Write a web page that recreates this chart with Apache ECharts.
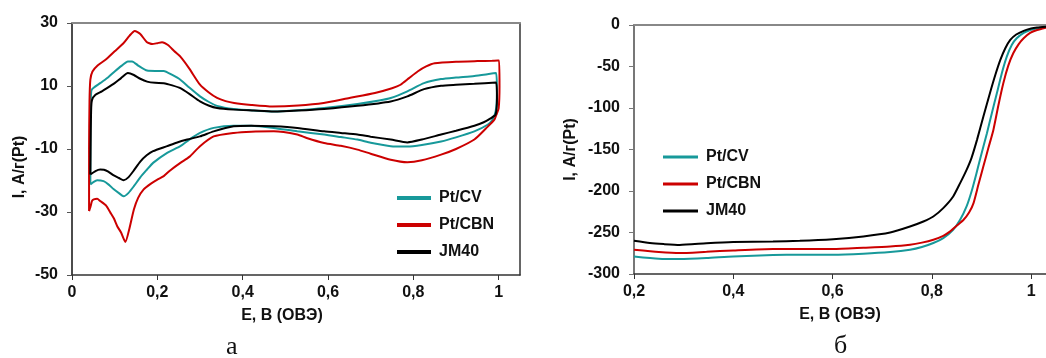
<!DOCTYPE html>
<html>
<head>
<meta charset="utf-8">
<script src="https://cdn.jsdelivr.net/npm/echarts@6/dist/echarts.min.js"></script>
<style>html,body{margin:0;padding:0;background:#fff}#c{width:1046px;height:358px}</style>
</head>
<body>
<div id="c"></div>
<script>
// ---- Panel a: cyclic voltammograms, [E, I] in path order ----
const seriesNames = ['Pt/CV', 'Pt/CBN', 'JM40'];
const cvPtCV = [[0.043,-21.3],[0.043,-5],[0.044,5],[0.046,8.8],[0.066,10.9],[0.085,12.8],[0.10,14.6],[0.115,16.3],[0.131,17.8],[0.141,17.8],[0.155,16.5],[0.176,14.9],[0.195,14.8],[0.215,14.8],[0.235,13.5],[0.254,12.0],[0.275,9.5],[0.30,6.7],[0.32,5.0],[0.34,3.7],[0.379,2.7],[0.426,2.2],[0.473,1.9],[0.53,2.3],[0.591,3.0],[0.669,4.3],[0.72,5.4],[0.747,6.2],[0.786,8.3],[0.825,10.9],[0.865,12.2],[0.90,12.7],[0.943,13.2],[0.994,14.1],[0.996,8],[0.993,2],[0.985,-0.8],[0.974,-2.3],[0.943,-4.4],[0.90,-6.3],[0.865,-7.6],[0.82,-8.7],[0.786,-9.2],[0.747,-9.1],[0.70,-8.0],[0.669,-7.0],[0.63,-6.2],[0.591,-5.4],[0.528,-4.4],[0.473,-3.3],[0.42,-2.6],[0.379,-2.6],[0.332,-3.3],[0.30,-4.9],[0.275,-7.0],[0.254,-9.1],[0.223,-11.2],[0.19,-14.4],[0.176,-16.5],[0.16,-19.0],[0.145,-21.8],[0.132,-24.0],[0.121,-25.0],[0.11,-24.0],[0.098,-22.8],[0.086,-21.3],[0.074,-20.2],[0.059,-19.9],[0.05,-20.5],[0.043,-21.3]];
const cvPtCBN = [[0.040,-29.7],[0.040,-10],[0.041,5],[0.043,12],[0.048,14.6],[0.06,16.5],[0.08,18.5],[0.10,21.0],[0.12,23.5],[0.135,26.0],[0.147,27.5],[0.16,26.5],[0.175,24.0],[0.188,23.3],[0.20,23.6],[0.211,23.9],[0.225,23.0],[0.24,21.0],[0.254,19.3],[0.275,15.5],[0.30,10.4],[0.32,8.0],[0.34,6.2],[0.36,5.2],[0.38,4.6],[0.42,4.0],[0.47,3.5],[0.53,3.8],[0.59,4.6],[0.65,6.2],[0.71,7.8],[0.75,9.3],[0.77,10.4],[0.79,12.5],[0.81,14.6],[0.83,16.2],[0.85,17.2],[0.90,17.7],[0.95,17.9],[0.985,18.0],[1.001,18.1],[1.002,10],[1.0,3],[0.995,1],[0.99,-0.7],[0.97,-3.5],[0.943,-7.0],[0.90,-10],[0.865,-11.8],[0.82,-13.6],[0.786,-14.2],[0.747,-13.4],[0.70,-11.5],[0.669,-10.2],[0.63,-9.0],[0.591,-8.1],[0.55,-6.5],[0.528,-5.4],[0.473,-4.4],[0.42,-4.5],[0.379,-4.9],[0.332,-6.0],[0.30,-9.1],[0.275,-12.5],[0.254,-14.4],[0.23,-16.8],[0.215,-18.6],[0.20,-19.7],[0.185,-21.0],[0.168,-22.8],[0.155,-25.5],[0.145,-29.2],[0.135,-35.0],[0.125,-39.5],[0.115,-36.5],[0.106,-34.5],[0.098,-32.0],[0.09,-30.2],[0.08,-28.0],[0.066,-26.5],[0.059,-25.8],[0.051,-26.0],[0.047,-26.5],[0.043,-28.5],[0.040,-29.7]];
const cvJM40 = [[0.043,-18.1],[0.044,-5],[0.045,3],[0.047,5.6],[0.055,7.2],[0.07,8.3],[0.082,9.3],[0.10,10.9],[0.115,12.5],[0.131,14.1],[0.145,13.5],[0.16,12.3],[0.176,11.4],[0.195,11.0],[0.215,10.9],[0.235,10.2],[0.254,9.3],[0.275,7.5],[0.30,5.1],[0.32,3.8],[0.34,3.0],[0.379,2.5],[0.426,2.2],[0.473,1.9],[0.53,2.2],[0.591,2.7],[0.669,3.7],[0.747,5.1],[0.786,6.7],[0.825,9.0],[0.865,10.1],[0.90,10.4],[0.943,10.7],[0.994,11.1],[0.996,6],[0.993,1],[0.982,-0.2],[0.965,-1.5],[0.943,-2.6],[0.90,-4.2],[0.865,-5.4],[0.82,-7.0],[0.786,-7.9],[0.747,-7.0],[0.70,-6.1],[0.669,-5.4],[0.63,-4.9],[0.591,-4.4],[0.528,-3.3],[0.473,-2.8],[0.42,-2.6],[0.379,-2.8],[0.332,-4.4],[0.30,-6.0],[0.27,-7.0],[0.245,-8.0],[0.223,-9.1],[0.19,-10.7],[0.175,-12.0],[0.16,-14.0],[0.145,-16.8],[0.132,-19.0],[0.121,-19.9],[0.11,-19.2],[0.098,-18.4],[0.085,-17.2],[0.075,-16.6],[0.066,-16.5],[0.055,-17.0],[0.043,-18.1]];

// ---- Panel б: linear sweep, [E, I] ----
const lsvPtCV = [[0.2,-278.8],[0.25,-281.6],[0.292,-282],[0.346,-280.8],[0.4,-278.8],[0.48,-277.2],[0.534,-276.7],[0.601,-276.8],[0.662,-275.6],[0.716,-273.6],[0.756,-270.8],[0.78,-267.5],[0.803,-262.7],[0.823,-256.7],[0.843,-246.7],[0.857,-234.7],[0.87,-218.6],[0.88,-200.6],[0.89,-178.5],[0.897,-162],[0.911,-130.3],[0.921,-106],[0.931,-82.2],[0.941,-58],[0.951,-38.1],[0.961,-24],[0.971,-16],[0.985,-9.5],[0.998,-6],[1.012,-3.8],[1.03,-2]];
const lsvPtCBN = [[0.2,-270.8],[0.25,-273.5],[0.292,-274.8],[0.346,-273.2],[0.4,-271.6],[0.48,-269.9],[0.534,-270],[0.601,-270],[0.662,-268.4],[0.716,-266.8],[0.756,-264.7],[0.78,-262.2],[0.803,-258.7],[0.823,-254],[0.837,-248.7],[0.85,-242],[0.864,-234.7],[0.875,-226],[0.884,-214.6],[0.894,-192],[0.904,-170],[0.914,-148],[0.924,-126.4],[0.934,-97],[0.944,-70.2],[0.954,-49],[0.964,-34.1],[0.975,-23],[0.985,-16],[0.998,-9.5],[1.012,-6],[1.03,-3.2]];
const lsvJM40 = [[0.2,-260],[0.232,-262.7],[0.26,-264],[0.292,-265],[0.346,-263],[0.4,-261.5],[0.48,-260.7],[0.534,-260],[0.601,-258],[0.662,-254.7],[0.716,-250],[0.756,-242.7],[0.783,-236.7],[0.803,-230.7],[0.823,-220.6],[0.843,-206.6],[0.857,-190.5],[0.87,-174.5],[0.88,-160],[0.891,-138.4],[0.904,-110],[0.917,-82.2],[0.928,-60],[0.938,-42.1],[0.948,-28],[0.958,-18],[0.97,-11.5],[0.985,-7],[1.0,-4.2],[1.012,-3.0],[1.03,-2]];

// ---- tick labels ----
const xTicksA = [0, 0.2, 0.4, 0.6, 0.8, 1];
const yTicksA = [-50, -30, -10, 10, 30];
const xTicksB = [0.2, 0.4, 0.6, 0.8, 1];
const yTicksB = [-300, -250, -200, -150, -100, -50, 0];
const xTitle = 'E, В (ОВЭ)';
const yTitle = 'I, А/г(Pt)';
const panelLabels = ['а', 'б'];

const colors = ['#17999a', '#cc0000', '#000000'];
const FONT = '"Liberation Sans", Arial, sans-serif';
const fmt = v => String(v).replace('.', ',');
const lblStyle = {fontFamily: FONT, fontWeight: 'bold', fontSize: 16, color: '#111'};

function line(name, data, idx, color) {
  return {type: 'line', name, data, xAxisIndex: idx, yAxisIndex: idx, showSymbol: false,
    symbol: 'none', smooth: 0.2, lineStyle: {color, width: 2}, itemStyle: {color},
    animation: false, silent: true};
}

const option = {
  animation: false,
  backgroundColor: '#fff',
  grid: [
    {left: 72, top: 23, width: 448, height: 252},
    {left: 634, top: 25, width: 412, height: 249}
  ],
  legend: [
    {data: seriesNames, orient: 'vertical', left: 392, top: 185, icon: 'rect', itemWidth: 34, itemHeight: 4, itemGap: 11,
      textStyle: Object.assign({lineHeight: 16, padding: [0,0,0,3]}, lblStyle), selectedMode: false},
    {data: seriesNames, orient: 'vertical', left: 658, top: 144, icon: 'rect', itemWidth: 35, itemHeight: 3, itemGap: 11,
      textStyle: Object.assign({lineHeight: 16, padding: [0,0,0,3]}, lblStyle), selectedMode: false}
  ],
  xAxis: [
    {type: 'value', gridIndex: 0, min: 0, max: 1.05, position: 'bottom',
      axisLine: {onZero: false, lineStyle: {color: '#333', width: 1.5}},
      axisTick: {show: true, length: 5, customValues: xTicksA, lineStyle: {color: '#333'}},
      axisLabel: Object.assign({customValues: xTicksA, formatter: fmt, margin: 10}, lblStyle),
      splitLine: {show: false},
      name: xTitle, nameLocation: 'middle', nameGap: 33,
      nameTextStyle: Object.assign({padding: [0, 28, 0, 0]}, lblStyle)},
    {type: 'value', gridIndex: 1, min: 0.2, max: 1.03, position: 'bottom',
      axisLine: {onZero: false, lineStyle: {color: '#333', width: 1.5}},
      axisTick: {show: true, length: 5, customValues: xTicksB, lineStyle: {color: '#333'}},
      axisLabel: Object.assign({customValues: xTicksB, formatter: fmt, margin: 10}, lblStyle),
      splitLine: {show: false},
      name: xTitle, nameLocation: 'middle', nameGap: 33,
      nameTextStyle: lblStyle},
    {type: 'value', gridIndex: 0, position: 'top', min: 0, max: 1.05,
      axisLine: {onZero: false, lineStyle: {color: '#888', width: 2}}, axisTick: {show: false}, axisLabel: {show: false}, splitLine: {show: false}},
    {type: 'value', gridIndex: 1, position: 'top', min: 0.2, max: 1.03,
      axisLine: {onZero: false, lineStyle: {color: '#888', width: 2}}, axisTick: {show: false}, axisLabel: {show: false}, splitLine: {show: false}}
  ],
  yAxis: [
    {type: 'value', gridIndex: 0, min: -50, max: 30, interval: 20,
      axisLine: {show: true, onZero: false, lineStyle: {color: '#111', width: 1.5}},
      axisTick: {show: true, length: 5, lineStyle: {color: '#555'}},
      axisLabel: Object.assign({margin: 14}, lblStyle),
      splitLine: {show: false},
      name: yTitle, nameLocation: 'middle', nameGap: 44, nameRotate: 90,
      nameTextStyle: Object.assign({padding: [0, 36, 0, 0]}, lblStyle)},
    {type: 'value', gridIndex: 1, min: -300, max: 0, interval: 50,
      axisLine: {show: true, onZero: false, lineStyle: {color: '#777', width: 2}},
      axisTick: {show: true, length: 5, lineStyle: {color: '#777'}},
      axisLabel: Object.assign({margin: 14}, lblStyle),
      splitLine: {show: false},
      name: yTitle, nameLocation: 'middle', nameGap: 55, nameRotate: 90,
      nameTextStyle: lblStyle},
    {type: 'value', gridIndex: 0, position: 'right', min: -50, max: 30,
      axisLine: {show: true, onZero: false, lineStyle: {color: '#333', width: 1.5}}, axisTick: {show: false}, axisLabel: {show: false}, splitLine: {show: false}}
  ],
  graphic: [
    {type: 'text', left: 226, top: 334, style: {text: panelLabels[0], font: '26px "Liberation Serif", "Times New Roman", serif', fill: '#111'}},
    {type: 'text', left: 834, top: 333, style: {text: panelLabels[1], font: '26px "Liberation Serif", "Times New Roman", serif', fill: '#111'}}
  ],
  series: [
    line(seriesNames[0], cvPtCV, 0, colors[0]),
    line(seriesNames[1], cvPtCBN, 0, colors[1]),
    line(seriesNames[2], cvJM40, 0, colors[2]),
    line(seriesNames[0], lsvPtCV, 1, colors[0]),
    line(seriesNames[1], lsvPtCBN, 1, colors[1]),
    line(seriesNames[2], lsvJM40, 1, colors[2])
  ]
};
const chart = echarts.init(document.getElementById('c'), null, {renderer: 'canvas'});
chart.setOption(option);
</script>
</body>
</html>
